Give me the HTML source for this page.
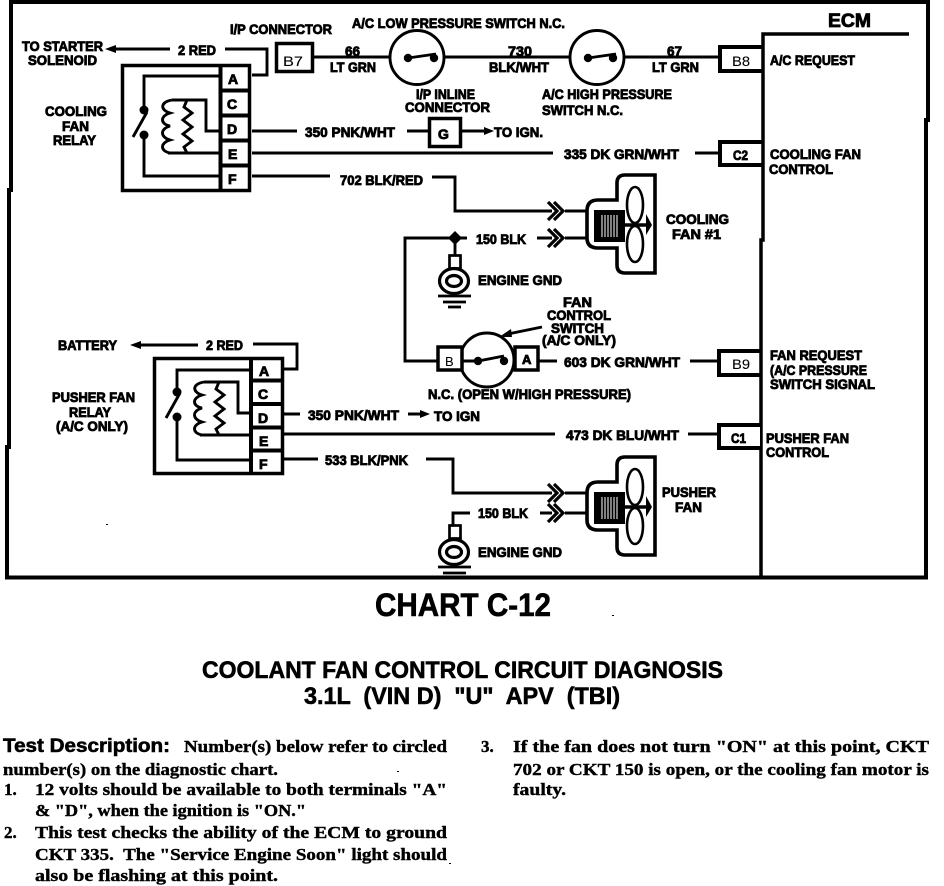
<!DOCTYPE html>
<html>
<head>
<meta charset="utf-8">
<style>
html,body{margin:0;padding:0;background:#fff;width:944px;height:886px;overflow:hidden}
svg{display:block}
text{font-family:"Liberation Sans",sans-serif;font-weight:bold;fill:#000}
.l{font-size:14px;stroke:#000;stroke-width:.85px}
.n{font-size:14px;font-weight:normal;stroke:#000;stroke-width:.1px}
.s{font-family:"Liberation Serif",serif;font-size:17px;stroke:#000;stroke-width:.4px}
.h{stroke:#000;stroke-width:.6px}
.w{fill:none;stroke:#000;stroke-width:2.9}
.b{fill:#fff;stroke:#000;stroke-width:3.5}
</style>
</head>
<body>
<svg width="944" height="886" viewBox="0 0 944 886" xmlns="http://www.w3.org/2000/svg">
<defs>
<g id="coil">
<path class="w" d="M172 100H206V131H220M168 153H220"/>
<path class="w" d="M172 100C160 102 160 110 170 113C160 116 160 124 170 126C160 129 160 137 170 140C160 143 160 151 170 153"/>
<path class="w" d="M187 100L184 107L192 113L183 120L192 127L183 134L192 141L184 147L187 153"/>
</g>
<g id="fan">
<path fill="#fff" stroke="#000" stroke-width="3.6" d="M655 175H625Q617 175 617 183V200H598Q587 200 587 211V238Q587 248 598 248H617V265Q617 273 625 273H655Z"/>
<rect x="594" y="210" width="31" height="32" fill="#000"/>
<path stroke="#fff" stroke-width="1" fill="none" d="M602 215V237M605 215V237M608 215V237M611 215V237M614 215V237M617 215V237"/>
<ellipse cx="635" cy="205" rx="8" ry="18" fill="#fff" stroke="#000" stroke-width="2.6"/>
<ellipse cx="635" cy="244" rx="8" ry="18" fill="#fff" stroke="#000" stroke-width="2.6"/>
<path stroke="#000" stroke-width="3.4" d="M625 225H648"/>
<path fill="#000" d="M646 214L652 225L646 235Z"/>
</g>
<g id="gnd">
<ellipse cx="454" cy="0" rx="14.500" ry="12.500" fill="#fff" stroke="#000" stroke-width="3.200"/>
<ellipse cx="454" cy="0" rx="7.500" ry="5.500" fill="#fff" stroke="#000" stroke-width="3.200"/>
</g>
<path id="chev" d="M-17 -9L-8 0L-17 9M-11 -9L-2 0L-11 9" fill="none" stroke="#000" stroke-width="3.200"/>
</defs>

<!-- frame -->
<path d="M11 2H928V120H926V577.500H7V447H9V190H11Z" fill="none" stroke="#000" stroke-width="4"/>

<!-- top relay -->
<rect x="122.500" y="65.500" width="127" height="125" class="b"/>
<path stroke="#000" stroke-width="4" d="M220.500 66V190"/>
<path stroke="#000" stroke-width="4" d="M221 90.500H250M221 115.500H250M221 140.500H250M221 165.500H250"/>
<path class="w" d="M220 76H144V110M144 135V176H220M133 137L147 112"/>
<circle cx="144" cy="110" r="4.500"/><circle cx="144" cy="135" r="4.500"/>
<use href="#coil"/>
<text class="l" x="228" y="84">A</text><text class="l" x="227" y="109">C</text><text class="l" x="227" y="134">D</text><text class="l" x="228" y="159">E</text><text class="l" x="228" y="184">F</text>

<!-- top wires -->
<path class="w" d="M114 49H170M225 49H267V75H252"/>
<path d="M105 49L116 45V53Z"/>
<path class="w" d="M313 57H390M444 57H570M624 57H718"/>
<circle cx="417" cy="57.500" r="27" class="w"/><circle cx="597" cy="57.500" r="27" class="w"/>
<path class="w" d="M408 58L436 54M588 58L616 54"/>
<circle cx="408" cy="58" r="4.200"/><circle cx="434" cy="58" r="4.200"/><circle cx="588" cy="58" r="4.200"/><circle cx="613" cy="58" r="4.200"/>
<rect x="276.500" y="43.500" width="36" height="28" class="b"/>
<path fill="#fff" stroke="#000" stroke-width="4" d="M763 47H720V71H763"/>
<path class="w" d="M252 131H297M407 131H428M461 131H485M252 153H553M695 153H718M252 176H330M432 177H455V211H552M565 211H587M537 238H552M565 238H587M467 238H405V361H437M455 238V255"/>
<path d="M484 127L494 131L484 135Z"/>
<rect x="429.500" y="118.500" width="31" height="28" class="b"/>
<path fill="#fff" stroke="#000" stroke-width="4" d="M763 142H720V165H763"/>

<use href="#fan"/>
<use href="#fan" transform="translate(0,282)"/>
<use href="#chev" transform="translate(565,211)"/>
<use href="#chev" transform="translate(565,238)"/>
<path d="M455 231L462 238L455 245L448 238Z"/>

<!-- ground 1 -->
<rect x="449.500" y="255.500" width="11" height="13" fill="#fff" stroke="#000" stroke-width="2.700"/>
<use href="#gnd" transform="translate(0,281)"/>
<path stroke="#000" stroke-width="2.700" d="M438 296H471M443 302H466M448 307H461"/>

<!-- fan control switch -->
<circle cx="487" cy="360" r="27" class="w"/>
<path class="w" d="M462 361H478L504 356M538 361H557M690 361H718"/>
<circle cx="478" cy="361" r="4.200"/><circle cx="504" cy="361" r="4.200"/>
<rect x="438" y="347" width="24" height="23" class="b"/>
<rect x="515" y="347" width="23" height="23" class="b"/>
<path class="w" d="M542 327L508 334"/><path d="M499 337L511 329L512 337Z"/>
<path fill="#fff" stroke="#000" stroke-width="4" d="M762 351H719V375H762"/>

<!-- ECM -->
<path fill="none" stroke="#000" stroke-width="3.500" d="M909 34H763V240H761V576"/>

<!-- lower relay -->
<rect x="154.500" y="358.500" width="128" height="115" class="b"/>
<path stroke="#000" stroke-width="4" d="M251 358V474"/>
<path stroke="#000" stroke-width="4" d="M252 380.500H282M252 404H282M252 427.500H282M252 450.500H282"/>
<path class="w" d="M250 370H177V392M177 417V460H250M166 418L180 393"/>
<circle cx="177" cy="392" r="4.500"/><circle cx="177" cy="417" r="4.500"/>
<use href="#coil" transform="translate(32,282)"/>
<text class="l" x="259" y="376">A</text><text class="l" x="258" y="399">C</text><text class="l" x="258" y="423">D</text><text class="l" x="259" y="446">E</text><text class="l" x="259" y="469">F</text>

<!-- lower wires -->
<path class="w" d="M138 345H198M253 344H297V369H284"/>
<path d="M130 345L141 341V349Z"/>
<path class="w" d="M283 414H300M408 414H422M283 434H555M688 434H718M283 459H318M426 459H453V493H552M565 493H587M540 513H552M565 513H587M470 513H453V526"/>
<path d="M420 410L430 414L420 418Z"/>
<use href="#chev" transform="translate(565,493)"/>
<use href="#chev" transform="translate(565,513)"/>
<path fill="#fff" stroke="#000" stroke-width="4" d="M760 425H719V448H760"/>
<rect x="449.500" y="525.500" width="11" height="13" fill="#fff" stroke="#000" stroke-width="2.700"/>
<use href="#gnd" transform="translate(0,552)"/>
<path stroke="#000" stroke-width="2.700" d="M438 567H471M443 573H466"/>

<!-- specks -->
<path fill="#000" d="M106 524h2v1h-2zM612 615h2v1h-2zM397 771h2v1h-2zM449 863h2v1h-2z"/>

<!-- labels -->
<text class="l" x="230" y="34" textLength="102" lengthAdjust="spacingAndGlyphs">I/P CONNECTOR</text>
<text class="l" x="352" y="28" textLength="213" lengthAdjust="spacingAndGlyphs">A/C LOW PRESSURE SWITCH N.C.</text>
<text class="l" x="22" y="51" textLength="81" lengthAdjust="spacingAndGlyphs">TO STARTER</text>
<text class="l" x="28" y="65" textLength="69" lengthAdjust="spacingAndGlyphs">SOLENOID</text>
<text class="l" x="178" y="55" textLength="38" lengthAdjust="spacingAndGlyphs">2 RED</text>
<text class="n" x="283" y="66" textLength="20" lengthAdjust="spacingAndGlyphs">B7</text>
<text class="l" x="345" y="56" textLength="15" lengthAdjust="spacingAndGlyphs">66</text>
<text class="l" x="330" y="72" textLength="46" lengthAdjust="spacingAndGlyphs">LT GRN</text>
<text class="l" x="508" y="56" textLength="24" lengthAdjust="spacingAndGlyphs">730</text>
<text class="l" x="489" y="72" textLength="60" lengthAdjust="spacingAndGlyphs">BLK/WHT</text>
<text class="l" x="667" y="56" textLength="15" lengthAdjust="spacingAndGlyphs">67</text>
<text class="l" x="652" y="72" textLength="47" lengthAdjust="spacingAndGlyphs">LT GRN</text>
<text class="n" x="732" y="66" textLength="18" lengthAdjust="spacingAndGlyphs">B8</text>
<text class="l" x="828" y="27" style="font-size:19px" textLength="43" lengthAdjust="spacingAndGlyphs">ECM</text>
<text class="l" x="770" y="65" textLength="85" lengthAdjust="spacingAndGlyphs">A/C REQUEST</text>
<text class="l" x="542" y="99" textLength="130" lengthAdjust="spacingAndGlyphs">A/C HIGH PRESSURE</text>
<text class="l" x="542" y="115" textLength="81" lengthAdjust="spacingAndGlyphs">SWITCH N.C.</text>
<text class="l" x="416" y="99" textLength="59" lengthAdjust="spacingAndGlyphs">I/P INLINE</text>
<text class="l" x="405" y="112" textLength="85" lengthAdjust="spacingAndGlyphs">CONNECTOR</text>
<text class="l" x="45" y="116" textLength="62" lengthAdjust="spacingAndGlyphs">COOLING</text>
<text class="l" x="62" y="131" textLength="27" lengthAdjust="spacingAndGlyphs">FAN</text>
<text class="l" x="53" y="145" textLength="43" lengthAdjust="spacingAndGlyphs">RELAY</text>
<text class="l" x="305" y="137" textLength="90" lengthAdjust="spacingAndGlyphs">350 PNK/WHT</text>
<text class="l" x="438" y="139">G</text>
<text class="l" x="494" y="137" textLength="49" lengthAdjust="spacingAndGlyphs">TO IGN.</text>
<text class="l" x="564" y="159" textLength="115" lengthAdjust="spacingAndGlyphs">335 DK GRN/WHT</text>
<text class="l" x="733" y="160" textLength="15" lengthAdjust="spacingAndGlyphs">C2</text>
<text class="l" x="770" y="159" textLength="91" lengthAdjust="spacingAndGlyphs">COOLING FAN</text>
<text class="l" x="769" y="174" textLength="64" lengthAdjust="spacingAndGlyphs">CONTROL</text>
<text class="l" x="340" y="185" textLength="83" lengthAdjust="spacingAndGlyphs">702 BLK/RED</text>
<text class="l" x="666" y="224" textLength="63" lengthAdjust="spacingAndGlyphs">COOLING</text>
<text class="l" x="672" y="239" textLength="49" lengthAdjust="spacingAndGlyphs">FAN #1</text>
<text class="l" x="476" y="244" textLength="50" lengthAdjust="spacingAndGlyphs">150 BLK</text>
<text class="l" x="478" y="285" textLength="84" lengthAdjust="spacingAndGlyphs">ENGINE GND</text>
<text class="l" x="563" y="307" textLength="29" lengthAdjust="spacingAndGlyphs">FAN</text>
<text class="l" x="547" y="320" textLength="64" lengthAdjust="spacingAndGlyphs">CONTROL</text>
<text class="l" x="551" y="333" textLength="53" lengthAdjust="spacingAndGlyphs">SWITCH</text>
<text class="l" x="542" y="345" textLength="74" lengthAdjust="spacingAndGlyphs">(A/C ONLY)</text>
<text class="n" x="445" y="366" style="font-size:13px">B</text>
<text class="l" x="522" y="364" style="font-size:13px">A</text>
<text class="l" x="564" y="367" textLength="116" lengthAdjust="spacingAndGlyphs">603 DK GRN/WHT</text>
<text class="n" x="732" y="369" textLength="18" lengthAdjust="spacingAndGlyphs">B9</text>
<text class="l" x="770" y="360" textLength="92" lengthAdjust="spacingAndGlyphs">FAN REQUEST</text>
<text class="l" x="770" y="375" textLength="97" lengthAdjust="spacingAndGlyphs">(A/C PRESSURE</text>
<text class="l" x="770" y="389" textLength="105" lengthAdjust="spacingAndGlyphs">SWITCH SIGNAL</text>
<text class="l" x="428" y="399" textLength="203" lengthAdjust="spacingAndGlyphs">N.C. (OPEN W/HIGH PRESSURE)</text>
<text class="l" x="58" y="350" textLength="59" lengthAdjust="spacingAndGlyphs">BATTERY</text>
<text class="l" x="206" y="350" textLength="37" lengthAdjust="spacingAndGlyphs">2 RED</text>
<text class="l" x="52" y="402" textLength="83" lengthAdjust="spacingAndGlyphs">PUSHER FAN</text>
<text class="l" x="69" y="417" textLength="42" lengthAdjust="spacingAndGlyphs">RELAY</text>
<text class="l" x="56" y="431" textLength="72" lengthAdjust="spacingAndGlyphs">(A/C ONLY)</text>
<text class="l" x="308" y="420" textLength="91" lengthAdjust="spacingAndGlyphs">350 PNK/WHT</text>
<text class="l" x="434" y="421" textLength="46" lengthAdjust="spacingAndGlyphs">TO IGN</text>
<text class="l" x="566" y="440" textLength="113" lengthAdjust="spacingAndGlyphs">473 DK BLU/WHT</text>
<text class="l" x="731" y="443" textLength="15" lengthAdjust="spacingAndGlyphs">C1</text>
<text class="l" x="766" y="443" textLength="83" lengthAdjust="spacingAndGlyphs">PUSHER FAN</text>
<text class="l" x="766" y="457" textLength="63" lengthAdjust="spacingAndGlyphs">CONTROL</text>
<text class="l" x="325" y="465" textLength="83" lengthAdjust="spacingAndGlyphs">533 BLK/PNK</text>
<text class="l" x="662" y="497" textLength="54" lengthAdjust="spacingAndGlyphs">PUSHER</text>
<text class="l" x="675" y="512" textLength="27" lengthAdjust="spacingAndGlyphs">FAN</text>
<text class="l" x="478" y="518" textLength="50" lengthAdjust="spacingAndGlyphs">150 BLK</text>
<text class="l" x="478" y="557" textLength="84" lengthAdjust="spacingAndGlyphs">ENGINE GND</text>

<!-- titles -->
<text class="h" x="375" y="616" style="font-size:32px" textLength="176" lengthAdjust="spacingAndGlyphs">CHART C-12</text>
<text class="h" x="202" y="678" style="font-size:24px" textLength="521" lengthAdjust="spacingAndGlyphs">COOLANT FAN CONTROL CIRCUIT DIAGNOSIS</text>
<text class="h" x="304" y="704" style="font-size:24px;white-space:pre" textLength="316" lengthAdjust="spacingAndGlyphs" xml:space="preserve">3.1L  (VIN D)  "U"  APV  (TBI)</text>

<!-- description -->
<text class="h" x="3" y="752" style="font-size:19px" textLength="167" lengthAdjust="spacingAndGlyphs">Test Description:</text>
<text class="s" x="184" y="752" textLength="263" lengthAdjust="spacingAndGlyphs">Number(s) below refer to circled</text>
<text class="s" x="3" y="775" textLength="275" lengthAdjust="spacingAndGlyphs">number(s) on the diagnostic chart.</text>
<text class="s" x="4" y="795">1.</text>
<text class="s" x="35" y="795" textLength="412" lengthAdjust="spacingAndGlyphs">12 volts should be available to both terminals "A"</text>
<text class="s" x="35" y="816" textLength="271" lengthAdjust="spacingAndGlyphs">&amp; "D", when the ignition is "ON."</text>
<text class="s" x="4" y="838">2.</text>
<text class="s" x="35" y="838" textLength="412" lengthAdjust="spacingAndGlyphs">This test checks the ability of the ECM to ground</text>
<text class="s" x="35" y="860" textLength="412" lengthAdjust="spacingAndGlyphs" xml:space="preserve">CKT 335.  The "Service Engine Soon" light should</text>
<text class="s" x="35" y="881" textLength="243" lengthAdjust="spacingAndGlyphs">also be flashing at this point.</text>
<text class="s" x="481" y="752">3.</text>
<text class="s" x="513" y="752" textLength="416" lengthAdjust="spacingAndGlyphs">If the fan does not turn "ON" at this point, CKT</text>
<text class="s" x="513" y="775" textLength="416" lengthAdjust="spacingAndGlyphs">702 or CKT 150 is open, or the cooling fan motor is</text>
<text class="s" x="513" y="795" textLength="53" lengthAdjust="spacingAndGlyphs">faulty.</text>
</svg>
</body>
</html>
